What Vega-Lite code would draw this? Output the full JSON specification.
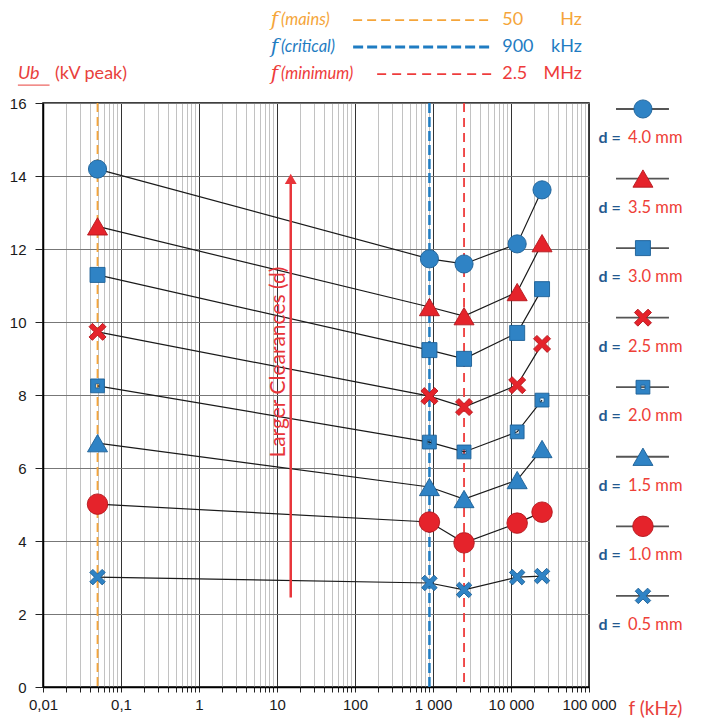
{
  "$schema": "https://vega.github.io/schema/vega-lite/v6.json",
  "padding": {"left": 8, "top": 0, "right": 0, "bottom": 0},
  "background": "white",
  "config": {"view": {"stroke": null}, "font": "Lato"},
  "datasets": {
    "pts": [
      {"d": 4.0, "f": 0.05, "U": 14.19}, {"d": 4.0, "f": 900, "U": 11.73}, {"d": 4.0, "f": 2500, "U": 11.59}, {"d": 4.0, "f": 12000, "U": 12.14}, {"d": 4.0, "f": 25000, "U": 13.62},
      {"d": 3.5, "f": 0.05, "U": 12.62}, {"d": 3.5, "f": 900, "U": 10.41}, {"d": 3.5, "f": 2500, "U": 10.16}, {"d": 3.5, "f": 12000, "U": 10.82}, {"d": 3.5, "f": 25000, "U": 12.16},
      {"d": 3.0, "f": 0.05, "U": 11.29}, {"d": 3.0, "f": 900, "U": 9.23}, {"d": 3.0, "f": 2500, "U": 8.99}, {"d": 3.0, "f": 12000, "U": 9.70}, {"d": 3.0, "f": 25000, "U": 10.90},
      {"d": 2.5, "f": 0.05, "U": 9.73}, {"d": 2.5, "f": 900, "U": 7.97}, {"d": 2.5, "f": 2500, "U": 7.67}, {"d": 2.5, "f": 12000, "U": 8.27}, {"d": 2.5, "f": 25000, "U": 9.40},
      {"d": 2.0, "f": 0.05, "U": 8.25}, {"d": 2.0, "f": 900, "U": 6.71}, {"d": 2.0, "f": 2500, "U": 6.44}, {"d": 2.0, "f": 12000, "U": 6.99}, {"d": 2.0, "f": 25000, "U": 7.86},
      {"d": 1.5, "f": 0.05, "U": 6.68}, {"d": 1.5, "f": 900, "U": 5.48}, {"d": 1.5, "f": 2500, "U": 5.15}, {"d": 1.5, "f": 12000, "U": 5.67}, {"d": 1.5, "f": 25000, "U": 6.52},
      {"d": 1.0, "f": 0.05, "U": 5.01}, {"d": 1.0, "f": 900, "U": 4.52}, {"d": 1.0, "f": 2500, "U": 3.95}, {"d": 1.0, "f": 12000, "U": 4.49}, {"d": 1.0, "f": 25000, "U": 4.79},
      {"d": 0.5, "f": 0.05, "U": 3.01}, {"d": 0.5, "f": 900, "U": 2.85}, {"d": 0.5, "f": 2500, "U": 2.66}, {"d": 0.5, "f": 12000, "U": 3.01}, {"d": 0.5, "f": 25000, "U": 3.04}
    ],
    "refs": [
      {"name": "mains", "f": 0.05, "label": "(mains)", "val": "50", "unit": "Hz"},
      {"name": "critical", "f": 900, "label": "(critical)", "val": "900", "unit": "kHz"},
      {"name": "minimum", "f": 2500, "label": "(minimum)", "val": "2.5", "unit": "MHz"}
    ],
    "series": [
      {"d": 4.0, "txt": "4.0 mm"}, {"d": 3.5, "txt": "3.5 mm"}, {"d": 3.0, "txt": "3.0 mm"}, {"d": 2.5, "txt": "2.5 mm"},
      {"d": 2.0, "txt": "2.0 mm"}, {"d": 1.5, "txt": "1.5 mm"}, {"d": 1.0, "txt": "1.0 mm"}, {"d": 0.5, "txt": "0.5 mm"}
    ],
    "notes": [{"note": "Larger Clearances (d)", "ylab": "Ub", "yunit": "(kV peak)"}]
  },
  "spacing": 0,
  "bounds": "flush",
  "vconcat": [
    {
      "width": 546,
      "height": 103,
      "data": {"name": "refs"},
      "encoding": {
        "y": {"field": "name", "type": "nominal", "scale": {"type": "point", "domain": ["mains", "critical", "minimum"], "padding": 0.907, "align": 0.41}, "axis": null},
        "color": {"field": "name", "type": "nominal", "scale": {"domain": ["mains", "critical", "minimum"], "range": ["#f5a53a", "#1f7cc2", "#ee3b3b"]}, "legend": null}
      },
      "layer": [
        {
          "mark": {"type": "text", "font": "DejaVu Serif", "fontStyle": "italic", "fontSize": 20, "align": "center", "baseline": "middle"},
          "encoding": {
            "x": {"datum": 0.424, "type": "quantitative", "scale": {"domain": [0, 1], "nice": false, "zero": false}, "axis": null},
            "text": {"value": "f"}
          }
        },
        {
          "mark": {"type": "text", "font": "Lato", "fontStyle": "italic", "fontSize": 16.5, "align": "left", "baseline": "middle"},
          "encoding": {"x": {"datum": 0.436, "type": "quantitative"}, "text": {"field": "label"}}
        },
        {
          "transform": [{"filter": "datum.name != 'minimum'"}],
          "mark": {"type": "rule"},
          "encoding": {
            "x": {"datum": 0.568, "type": "quantitative"},
            "x2": {"datum": 0.824},
            "strokeDash": {"field": "name", "type": "nominal", "scale": {"domain": ["mains", "critical", "minimum"], "range": [[9, 5], [10, 4], [9, 6]]}, "legend": null},
            "strokeWidth": {"condition": {"test": "datum.name == 'critical'", "value": 3}, "value": 1.8}
          }
        },
        {
          "transform": [{"filter": "datum.name == 'minimum'"}],
          "mark": {"type": "rule", "strokeWidth": 1.8},
          "encoding": {
            "x": {"datum": 0.612, "type": "quantitative"},
            "x2": {"datum": 0.824},
            "strokeDash": {"field": "name", "type": "nominal", "legend": null}
          }
        },
        {
          "mark": {"type": "text", "font": "Lato", "fontSize": 18, "align": "left", "baseline": "middle"},
          "encoding": {"x": {"datum": 0.841, "type": "quantitative"}, "text": {"field": "val"}}
        },
        {
          "mark": {"type": "text", "font": "Lato", "fontSize": 18, "align": "right", "baseline": "middle"},
          "encoding": {"x": {"datum": 0.987, "type": "quantitative"}, "text": {"field": "unit"}}
        },
        {
          "data": {"name": "notes"},
          "mark": {"type": "text", "font": "Lato", "fontStyle": "italic", "fontSize": 18, "align": "left", "baseline": "middle"},
          "encoding": {"x": {"datum": -0.046, "type": "quantitative"}, "y": {"datum": "minimum"}, "text": {"field": "ylab"}, "color": {"value": "#e8413c"}}
        },
        {
          "data": {"name": "notes"},
          "mark": {"type": "rule", "strokeWidth": 1, "yOffset": 11},
          "encoding": {"x": {"datum": -0.046, "type": "quantitative"}, "x2": {"datum": 0.012}, "y": {"datum": "minimum"}, "color": {"value": "#e8413c"}}
        },
        {
          "data": {"name": "notes"},
          "mark": {"type": "text", "font": "Lato", "fontSize": 18, "align": "left", "baseline": "middle"},
          "encoding": {"x": {"datum": 0.022, "type": "quantitative"}, "y": {"datum": "minimum"}, "text": {"field": "yunit"}, "color": {"value": "#e8413c"}}
        }
      ]
    },
    {
      "spacing": 11,
      "bounds": "flush",
      "hconcat": [
        {
          "width": 546,
          "height": 584,
          "view": {"stroke": "black", "strokeWidth": 1.5},
          "layer": [
            {
              "data": {"name": "refs"},
              "mark": {"type": "rule"},
              "encoding": {
                "x": {
                  "field": "f", "type": "quantitative",
                  "scale": {"type": "log", "domain": [0.01, 100000], "nice": false},
                  "axis": {
                    "values": [0.01,0.02,0.03,0.04,0.05,0.06,0.07,0.08,0.09,0.1,0.2,0.3,0.4,0.5,0.6,0.7,0.8,0.9,1,2,3,4,5,6,7,8,9,10,20,30,40,50,60,70,80,90,100,200,300,400,500,600,700,800,900,1000,2000,3000,4000,5000,6000,7000,8000,9000,10000,20000,30000,40000,50000,60000,70000,80000,90000,100000],
                    "labelExpr": "datum.value == 0.01 ? '0,01' : datum.value == 0.1 ? '0,1' : datum.value == 1 ? '1' : datum.value == 10 ? '10' : datum.value == 100 ? '100' : datum.value == 1000 ? '1 000' : datum.value == 10000 ? '10 000' : datum.value == 100000 ? '100 000' : ''",
                    "labelOverlap": false,
                    "labelFlush": false,
                    "labelBound": false,
                    "grid": true,
                    "gridColor": {"condition": {"test": "abs(log(datum.value)/LN10 - round(log(datum.value)/LN10)) < 0.001", "value": "#333333"}, "value": "#a8a8a8"},
                    "gridWidth": {"condition": {"test": "abs(log(datum.value)/LN10 - round(log(datum.value)/LN10)) < 0.001", "value": 1}, "value": 0.7},
                    "tickColor": "#222",
                    "tickSize": 5,
                    "domainColor": "black",
                    "domainWidth": 1.5,
                    "labelFont": "Liberation Sans",
                    "labelFontSize": 15,
                    "labelColor": "#1a1a1a",
                    "labelPadding": 5,
                    "title": "f (kHz)",
                    "titleColor": "#e8413c",
                    "titleFont": "Lato",
                    "titleFontSize": 19,
                    "titleFontWeight": "normal",
                    "titleAngle": 0,
                    "titleAlign": "center",
                    "titleBaseline": "middle",
                    "titleX": 612,
                    "titleY": 21
                  }
                },
                "color": {"field": "name", "type": "nominal", "legend": null},
                "strokeDash": {"field": "name", "type": "nominal", "legend": null},
                "strokeWidth": {"condition": {"test": "datum.name == 'critical'", "value": 2.5}, "value": 1.8}
              }
            },
            {
              "data": {"name": "pts"},
              "mark": {"type": "line", "color": "#1a1a1a", "strokeWidth": 1.2},
              "encoding": {
                "x": {"field": "f", "type": "quantitative"},
                "y": {
                  "field": "U", "type": "quantitative",
                  "scale": {"domain": [0, 16], "nice": false},
                  "axis": {
                    "values": [0,0.5,1,1.5,2,2.5,3,3.5,4,4.5,5,5.5,6,6.5,7,7.5,8,8.5,9,9.5,10,10.5,11,11.5,12,12.5,13,13.5,14,14.5,15,15.5,16],
                    "labelExpr": "datum.value % 2 == 0 ? datum.label : ''",
                    "grid": true,
                    "gridColor": "#777777",
                    "gridOpacity": {"condition": {"test": "datum.value % 2 == 0", "value": 1}, "value": 0},
                    "tickSize": 8,
                    "tickColor": "#222",
                    "domainColor": "black",
                    "domainWidth": 1.5,
                    "labelFont": "Liberation Sans",
                    "labelFontSize": 15,
                    "labelColor": "#1a1a1a",
                    "labelPadding": 9,
                    "labelFlush": false,
                    "title": null
                  }
                },
                "detail": {"field": "d", "type": "nominal"}
              }
            },
            {
              "data": {"name": "pts"},
              "mark": {"type": "point", "filled": true, "opacity": 1, "strokeWidth": 1, "strokeOpacity": 0.9},
              "encoding": {
                "x": {"field": "f", "type": "quantitative"},
                "y": {"field": "U", "type": "quantitative"},
                "fill": {"field": "d", "type": "nominal", "scale": {"domain": [4, 3.5, 3, 2.5, 2, 1.5, 1, 0.5], "range": ["#2f83c5", "#e5232b", "#2f83c5", "#e5232b", "#2f83c5", "#2f83c5", "#e5232b", "#2f83c5"]}, "legend": null},
                "stroke": {"field": "d", "type": "nominal", "scale": {"domain": [4, 3.5, 3, 2.5, 2, 1.5, 1, 0.5], "range": ["#1c5f96", "#b5161c", "#1c5f96", "#b5161c", "#1c5f96", "#1c5f96", "#b5161c", "#1c5f96"]}, "legend": null},
                "shape": {"field": "d", "type": "nominal", "scale": {"domain": [4, 3.5, 3, 2.5, 2, 1.5, 1, 0.5], "range": ["circle", "triangle-up", "square", "M0,-0.4L0.6,-1L1,-0.6L0.4,0L1,0.6L0.6,1L0,0.4L-0.6,1L-1,0.6L-0.4,0L-1,-0.6L-0.6,-1Z", "M-1,-1L1,-1L1,1L-1,1Z M-0.3,-0.3L-0.3,0.3L0.3,0.3L0.3,-0.3Z", "triangle-up", "circle", "M0,-0.4L0.6,-1L1,-0.6L0.4,0L1,0.6L0.6,1L0,0.4L-0.6,1L-1,0.6L-0.4,0L-1,-0.6L-0.6,-1Z"]}, "legend": null},
                "size": {"field": "d", "type": "nominal", "scale": {"type": "ordinal", "domain": [4, 3.5, 3, 2.5, 2, 1.5, 1, 0.5], "range": [330, 400, 225, 290, 190, 400, 420, 240]}, "legend": null}
              }
            },
            {
              "data": {"name": "notes"},
              "mark": {"type": "rule", "color": "#e8353a", "strokeWidth": 2.5},
              "encoding": {"x": {"datum": 15, "type": "quantitative"}, "y": {"datum": 2.45, "type": "quantitative"}, "y2": {"datum": 13.8}}
            },
            {
              "data": {"name": "notes"},
              "mark": {"type": "point", "shape": "triangle-up", "filled": true, "color": "#e8353a", "opacity": 1, "size": 140},
              "encoding": {"x": {"datum": 15, "type": "quantitative"}, "y": {"datum": 13.92, "type": "quantitative"}}
            },
            {
              "data": {"name": "notes"},
              "mark": {"type": "text", "font": "Lato", "fontSize": 21, "angle": 270, "align": "center", "baseline": "middle", "color": "#e8353a"},
              "encoding": {"x": {"datum": 10.6, "type": "quantitative"}, "y": {"datum": 8.9, "type": "quantitative"}, "text": {"field": "note"}}
            }
          ]
        },
        {
          "width": 104,
          "height": 584,
          "data": {"name": "series"},
          "encoding": {
            "y": {"field": "d", "type": "quantitative", "scale": {"domain": [-0.155, 4.043], "nice": false, "zero": false}, "axis": null}
          },
          "layer": [
            {
              "mark": {"type": "rule", "color": "#555555", "strokeWidth": 1.8},
              "encoding": {
                "x": {"datum": 0.154, "type": "quantitative", "scale": {"domain": [0, 1], "nice": false, "zero": false}, "axis": null},
                "x2": {"datum": 0.663}
              }
            },
            {
              "mark": {"type": "point", "filled": true, "opacity": 1, "strokeWidth": 1, "strokeOpacity": 0.9},
              "encoding": {
                "x": {"datum": 0.413, "type": "quantitative"},
                "fill": {"field": "d", "type": "nominal", "scale": {"domain": [4, 3.5, 3, 2.5, 2, 1.5, 1, 0.5], "range": ["#2f83c5", "#e5232b", "#2f83c5", "#e5232b", "#2f83c5", "#2f83c5", "#e5232b", "#2f83c5"]}, "legend": null},
                "stroke": {"field": "d", "type": "nominal", "scale": {"domain": [4, 3.5, 3, 2.5, 2, 1.5, 1, 0.5], "range": ["#1c5f96", "#b5161c", "#1c5f96", "#b5161c", "#1c5f96", "#1c5f96", "#b5161c", "#1c5f96"]}, "legend": null},
                "shape": {"field": "d", "type": "nominal", "scale": {"domain": [4, 3.5, 3, 2.5, 2, 1.5, 1, 0.5], "range": ["circle", "triangle-up", "square", "M0,-0.4L0.6,-1L1,-0.6L0.4,0L1,0.6L0.6,1L0,0.4L-0.6,1L-1,0.6L-0.4,0L-1,-0.6L-0.6,-1Z", "M-1,-1L1,-1L1,1L-1,1Z M-0.3,-0.3L-0.3,0.3L0.3,0.3L0.3,-0.3Z", "triangle-up", "circle", "M0,-0.4L0.6,-1L1,-0.6L0.4,0L1,0.6L0.6,1L0,0.4L-0.6,1L-1,0.6L-0.4,0L-1,-0.6L-0.6,-1Z"]}, "legend": null},
                "size": {"field": "d", "type": "nominal", "scale": {"type": "ordinal", "domain": [4, 3.5, 3, 2.5, 2, 1.5, 1, 0.5], "range": [330, 400, 225, 290, 190, 400, 420, 240]}, "legend": null}
              }
            },
            {
              "mark": {"type": "text", "font": "Lato", "fontSize": 16, "fontWeight": "bold", "align": "right", "baseline": "middle", "dy": 29, "color": "#24598f"},
              "encoding": {"x": {"datum": 0.2, "type": "quantitative"}, "text": {"value": "d ="}}
            },
            {
              "mark": {"type": "text", "font": "Lato", "fontSize": 16.5, "align": "left", "baseline": "middle", "dy": 29, "color": "#ee4037"},
              "encoding": {"x": {"datum": 0.27, "type": "quantitative"}, "text": {"field": "txt"}}
            }
          ]
        }
      ]
    }
  ]
}
